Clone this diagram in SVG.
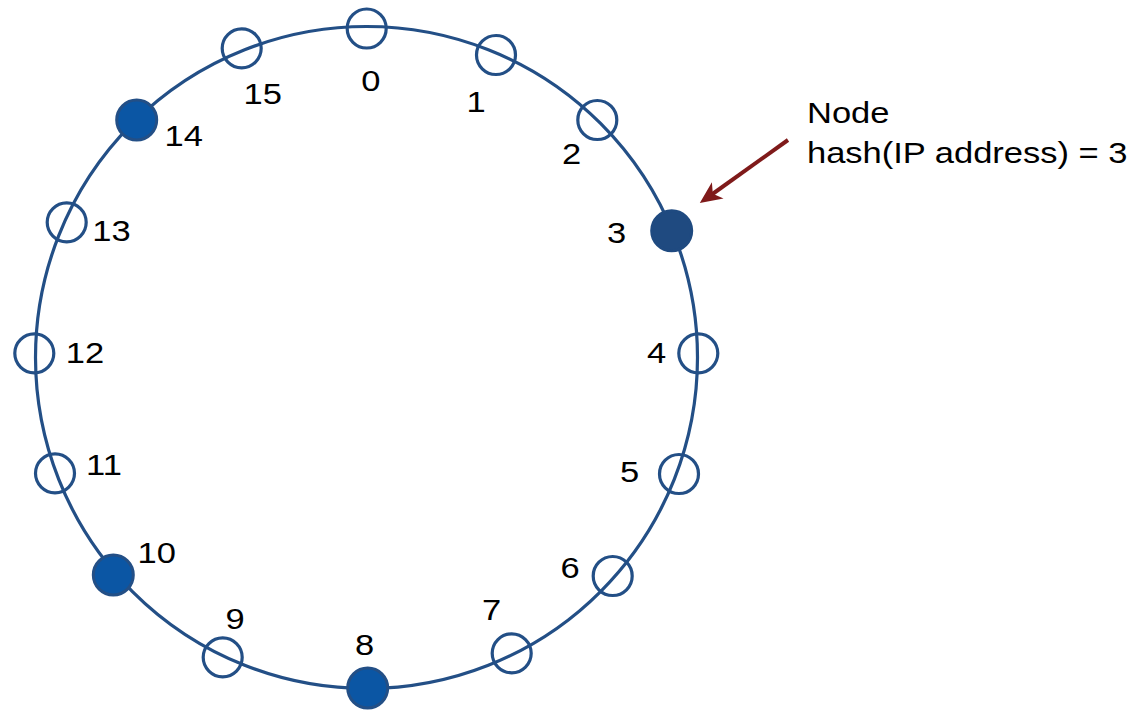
<svg xmlns="http://www.w3.org/2000/svg" width="1130" height="711" viewBox="0 0 1130 711">
  <style>
    .ring { fill: none; stroke: #234f86; stroke-width: 3.2; }
    .open { fill: none; stroke: #234f86; stroke-width: 3.2; }
    .fill { fill: #0b56a4; stroke: #234f86; stroke-width: 3; }
    .dark { fill: #1f4a80; stroke: #1f4a80; stroke-width: 3; }
    .lbl { font-family: "Liberation Sans", Arial, sans-serif; font-size: 30px; fill: #000; text-anchor: middle; }
    .note { font-family: "Liberation Sans", Arial, sans-serif; font-size: 30px; fill: #000; }
    .arrow { stroke: #7f1a1a; stroke-width: 4; fill: none; }
  </style>
  <defs>
    <marker id="head" markerUnits="userSpaceOnUse" viewBox="0 0 22 22" markerWidth="22" markerHeight="22" refX="15" refY="11" orient="auto">
      <path d="M0,1 L22,11 L0,21 L6,11 z" fill="#7f1a1a"/>
    </marker>
  </defs>
  <rect width="1130" height="711" fill="#ffffff"/>

  <g id="ring">
    <circle class="ring" cx="366.5" cy="357.5" r="331"/>
  </g>

  <g id="connectors">
    <line class="arrow" x1="788" y1="140" x2="705.5" y2="199" marker-end="url(#head)"/>
  </g>

  <g id="node-0"><circle class="open" cx="366.7" cy="28.5" r="19.5"/><text class="lbl" transform="translate(370.8,91) scale(1.15,1)">0</text></g>
  <g id="node-1"><circle class="open" cx="496" cy="55" r="19.5"/><text class="lbl" transform="translate(476,112) scale(1.15,1)">1</text></g>
  <g id="node-2"><circle class="open" cx="597.3" cy="120" r="19.5"/><text class="lbl" transform="translate(571.7,164) scale(1.15,1)">2</text></g>
  <g id="node-3"><circle class="dark" cx="671.7" cy="230.7" r="20"/><text class="lbl" transform="translate(616.7,242.5) scale(1.15,1)">3</text></g>
  <g id="node-4"><circle class="open" cx="698.3" cy="353.3" r="19.5"/><text class="lbl" transform="translate(656.7,362.5) scale(1.15,1)">4</text></g>
  <g id="node-5"><circle class="open" cx="679" cy="474" r="19.5"/><text class="lbl" transform="translate(629.5,481.5) scale(1.15,1)">5</text></g>
  <g id="node-6"><circle class="open" cx="612.7" cy="576" r="19.5"/><text class="lbl" transform="translate(570,578) scale(1.15,1)">6</text></g>
  <g id="node-7"><circle class="open" cx="511.7" cy="653.3" r="19.5"/><text class="lbl" transform="translate(491.7,619.5) scale(1.15,1)">7</text></g>
  <g id="node-8"><circle class="fill" cx="367.7" cy="688" r="20"/><text class="lbl" transform="translate(364.5,655) scale(1.15,1)">8</text></g>
  <g id="node-9"><circle class="open" cx="222.7" cy="657.3" r="19.5"/><text class="lbl" transform="translate(235,629) scale(1.15,1)">9</text></g>
  <g id="node-10"><circle class="fill" cx="113.3" cy="575" r="20"/><text class="lbl" transform="translate(156.7,562.5) scale(1.15,1)">10</text></g>
  <g id="node-11"><circle class="open" cx="55" cy="473.3" r="19.5"/><text class="lbl" transform="translate(104,475) scale(1.15,1)">11</text></g>
  <g id="node-12"><circle class="open" cx="34.3" cy="353.3" r="19.5"/><text class="lbl" transform="translate(85,362.5) scale(1.15,1)">12</text></g>
  <g id="node-13"><circle class="open" cx="66.7" cy="222.3" r="19.5"/><text class="lbl" transform="translate(111.5,241) scale(1.15,1)">13</text></g>
  <g id="node-14"><circle class="fill" cx="136.7" cy="120" r="20"/><text class="lbl" transform="translate(183.7,146) scale(1.15,1)">14</text></g>
  <g id="node-15"><circle class="open" cx="241.7" cy="48.3" r="19.5"/><text class="lbl" transform="translate(262.7,104) scale(1.15,1)">15</text></g>

  <g id="annotation">
    <text class="note" transform="translate(807,122.5) scale(1.15,1)">Node</text>
    <text class="note" transform="translate(807,163) scale(1.15,1)">hash(IP address) = 3</text>
  </g>
</svg>
